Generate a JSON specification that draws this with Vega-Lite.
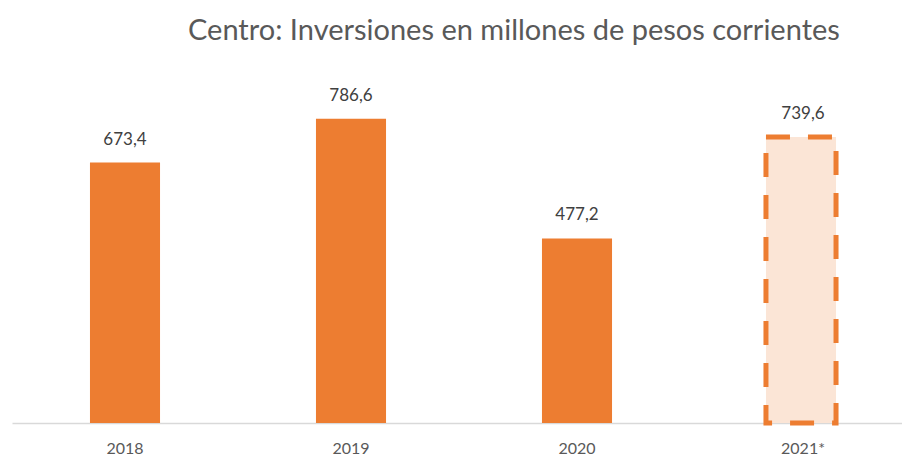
{
  "$schema": "https://vega.github.io/schema/vega-lite/v6.json",
  "autosize": "none",
  "width": 890,
  "height": 348,
  "padding": {"left": 12, "top": 75, "right": 0, "bottom": 33},
  "background": "white",
  "title": {
    "text": "Centro: Inversiones en millones de pesos corrientes",
    "anchor": "start",
    "frame": "group",
    "dx": 176,
    "offset": 29,
    "font": "Lato",
    "fontSize": 29,
    "fontWeight": "normal",
    "color": "#595959"
  },
  "config": {
    "view": {"stroke": null},
    "locale": {"number": {"decimal": ",", "thousands": ".", "grouping": [3], "currency": ["$", ""]}}
  },
  "data": {"values": [
    {"anio": "2018", "valor": 673.4, "tipo": "real"},
    {"anio": "2019", "valor": 786.6, "tipo": "real"},
    {"anio": "2020", "valor": 477.2, "tipo": "real"},
    {"anio": "2021*", "valor": 739.6, "tipo": "estimado"}
  ]},
  "encoding": {
    "x": {
      "field": "anio", "type": "nominal", "sort": null,
      "scale": {"range": [0, 904], "paddingInner": 0.69, "paddingOuter": 0.345},
      "axis": {"title": null, "labelAngle": 0, "ticks": false, "domainColor": "#D9D9D9", "domainWidth": 1.5,
               "labelFont": "Lato", "labelFontSize": 16, "labelColor": "#595959", "labelPadding": 17, "labelBaseline": "top"}
    },
    "y": {
      "field": "valor", "type": "quantitative",
      "scale": {"domain": [0, 900], "nice": false},
      "axis": null
    }
  },
  "layer": [
    {
      "transform": [{"filter": "datum.tipo === 'real'"}],
      "mark": {"type": "bar", "color": "#ED7D31"}
    },
    {
      "transform": [{"filter": "datum.tipo === 'estimado'"}],
      "mark": {"type": "bar", "fill": "#FBE5D6", "stroke": "#ED7D31", "strokeWidth": 5, "strokeDash": [24, 18], "xOffset": -2}
    },
    {
      "mark": {"type": "text", "baseline": "middle", "dy": -23, "font": "Lato", "fontSize": 17, "color": "#404040"},
      "encoding": {"text": {"field": "valor", "type": "quantitative", "format": ".1f"}}
    }
  ]
}
